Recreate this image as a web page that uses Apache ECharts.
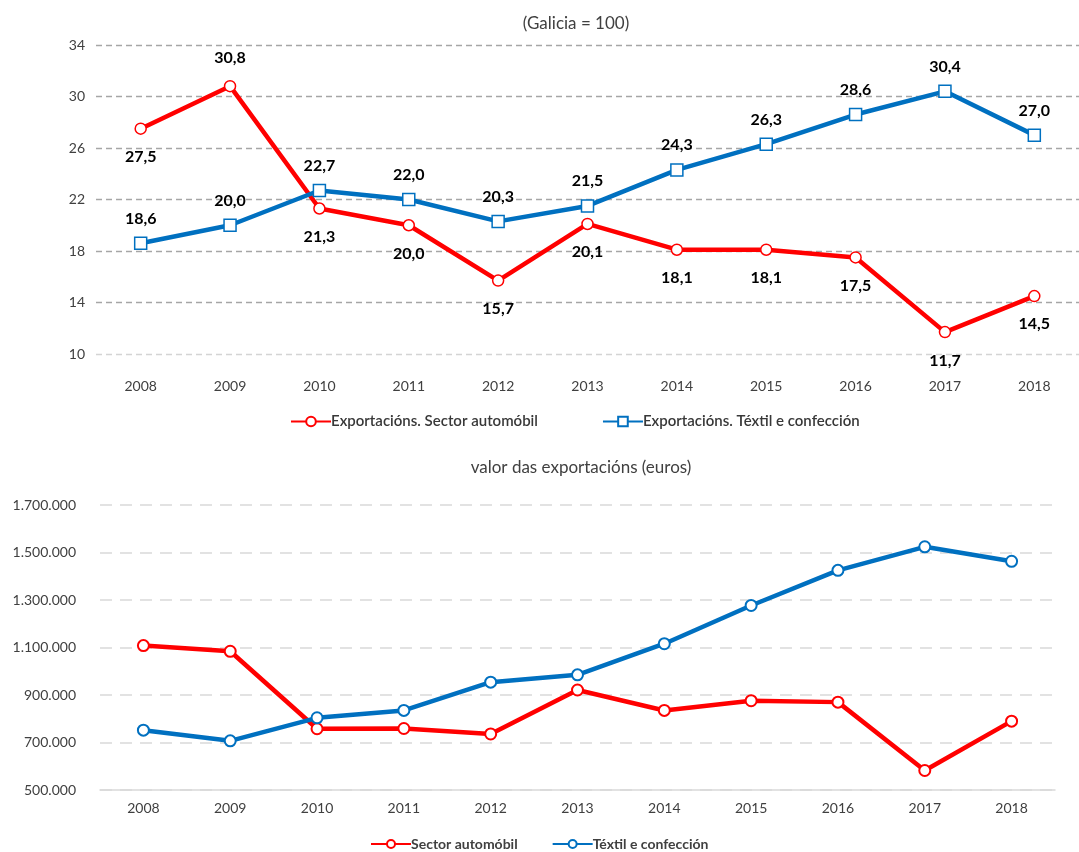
<!DOCTYPE html>
<html>
<head>
<meta charset="utf-8">
<script src="https://cdn.jsdelivr.net/npm/echarts@6/dist/echarts.min.js"></script>
<style>
html,body{margin:0;padding:0;background:#fff;}
#c{width:1079px;height:852px;}
</style>
</head>
<body>
<div id="c"></div>
<script>
// ---- data ----
const years = ['2008','2009','2010','2011','2012','2013','2014','2015','2016','2017','2018'];
const indexAuto = [27.5, 30.8, 21.3, 20.0, 15.7, 20.1, 18.1, 18.1, 17.5, 11.7, 14.5];
const indexTextil = [18.6, 20.0, 22.7, 22.0, 20.3, 21.5, 24.3, 26.3, 28.6, 30.4, 27.0];
const valueAuto = [1108000, 1084000, 758000, 759000, 736000, 921000, 835000, 876000, 870000, 582000, 790000];
const valueTextil = [752000, 707000, 804000, 835000, 954000, 985000, 1116000, 1277000, 1425000, 1524000, 1463000];
const topTitle = '(Galicia = 100)';
const bottomTitle = 'valor das exportacións (euros)';
const topNames = ['Exportacións. Sector automóbil', 'Exportacións. Téxtil e confección'];
const bottomNames = ['Sector automóbil', 'Téxtil e confección'];

const RED = '#ff0000', BLUE = '#0070c0', TXT = '#404040';
const FONT = 'Lato, "Liberation Sans", sans-serif';
const fmt1 = v => v.toFixed(1).replace('.', ',');
const fmtThousands = v => String(v).replace(/\B(?=(\d{3})+(?!\d))/g, '.');
const autoLabelsAbove = [1];

const chart = echarts.init(document.getElementById('c'), null, {renderer: 'canvas'});
chart.setOption({
  backgroundColor: '#fff',
  animation: false,
  textStyle: {fontFamily: FONT},
  title: [
    {text: topTitle, top: 10, left: 571, textAlign: 'center', textStyle: {fontSize: 17, fontWeight: 'normal', color: TXT, fontFamily: FONT}},
    {text: bottomTitle, top: 454, left: 576, textAlign: 'center', textStyle: {fontSize: 17, fontWeight: 'normal', color: TXT, fontFamily: FONT}}
  ],
  legend: [
    {
      data: topNames, top: 409, left: 285, itemWidth: 40, itemHeight: 12, itemGap: 64,
      textStyle: {fontSize: 15, color: '#383838', fontWeight: 600, fontFamily: FONT, padding: [0,0,0,-5]}
    },
    {
      data: bottomNames, top: 832, left: 365, itemWidth: 40, itemHeight: 10, itemGap: 34,
      textStyle: {fontSize: 14, color: TXT, fontWeight: 'bold', fontFamily: FONT, padding: [0,0,0,-5]}
    }
  ],
  grid: [
    {left: 96, top: 45, width: 990, height: 309},
    {left: 100, top: 505, width: 955, height: 285}
  ],
  xAxis: [
    {
      type: 'category', gridIndex: 0, data: years, boundaryGap: true,
      axisLine: {show: false}, axisTick: {show: false},
      axisLabel: {color: TXT, fontSize: 14, margin: 25, fontFamily: FONT}
    },
    {
      type: 'category', gridIndex: 1, data: years, boundaryGap: true,
      axisLine: {show: true, lineStyle: {color: '#d9d9d9', width: 1.5}}, axisTick: {show: false},
      axisLabel: {color: TXT, fontSize: 14, margin: 11, fontFamily: FONT}
    }
  ],
  yAxis: [
    {
      type: 'value', gridIndex: 0, min: 10, max: 34, interval: 4,
      axisLine: {show: false}, axisTick: {show: false},
      axisLabel: {color: TXT, fontSize: 14, margin: 11, fontFamily: FONT},
      splitLine: {lineStyle: {type: [6, 4], width: 1.3, color: ['#d4d4d4','#a6a6a6','#a6a6a6','#a6a6a6','#a6a6a6','#a6a6a6','#a6a6a6']}}
    },
    {
      type: 'value', gridIndex: 1, min: 500000, max: 1700000, interval: 200000,
      axisLine: {show: false}, axisTick: {show: false},
      axisLabel: {color: TXT, fontSize: 14, margin: 24, fontFamily: FONT, formatter: fmtThousands},
      splitLine: {lineStyle: {type: [12, 8], width: 1.5, color: '#d9d9d9'}}
    }
  ],
  series: [
    {
      name: topNames[0], type: 'line', xAxisIndex: 0, yAxisIndex: 0,
      data: indexAuto.map((v, i) => ({value: v, label: {position: autoLabelsAbove.includes(i) ? 'top' : 'bottom'}})),
      symbol: 'circle', symbolSize: 11,
      lineStyle: {color: RED, width: 4.5},
      itemStyle: {color: '#fff', borderColor: RED, borderWidth: 1.5},
      label: {show: true, distance: 14, formatter: p => fmt1(p.value), fontSize: 16, fontWeight: 'bold', color: '#000', fontFamily: FONT},
      z: 3
    },
    {
      name: topNames[1], type: 'line', xAxisIndex: 0, yAxisIndex: 0,
      data: indexTextil,
      symbol: 'rect', symbolSize: 12,
      lineStyle: {color: BLUE, width: 4.5},
      itemStyle: {color: '#fff', borderColor: BLUE, borderWidth: 1.5},
      label: {show: true, position: 'top', distance: 10, formatter: p => fmt1(p.value), fontSize: 16, fontWeight: 'bold', color: '#000', fontFamily: FONT},
      z: 4
    },
    {
      name: bottomNames[0], type: 'line', xAxisIndex: 1, yAxisIndex: 1,
      data: valueAuto,
      symbol: 'circle', symbolSize: 11,
      lineStyle: {color: RED, width: 4.5},
      itemStyle: {color: '#fff', borderColor: RED, borderWidth: 2},
      z: 3
    },
    {
      name: bottomNames[1], type: 'line', xAxisIndex: 1, yAxisIndex: 1,
      data: valueTextil,
      symbol: 'circle', symbolSize: 11,
      lineStyle: {color: BLUE, width: 4.5},
      itemStyle: {color: '#fff', borderColor: BLUE, borderWidth: 2},
      z: 4
    }
  ]
});
</script>
</body>
</html>
